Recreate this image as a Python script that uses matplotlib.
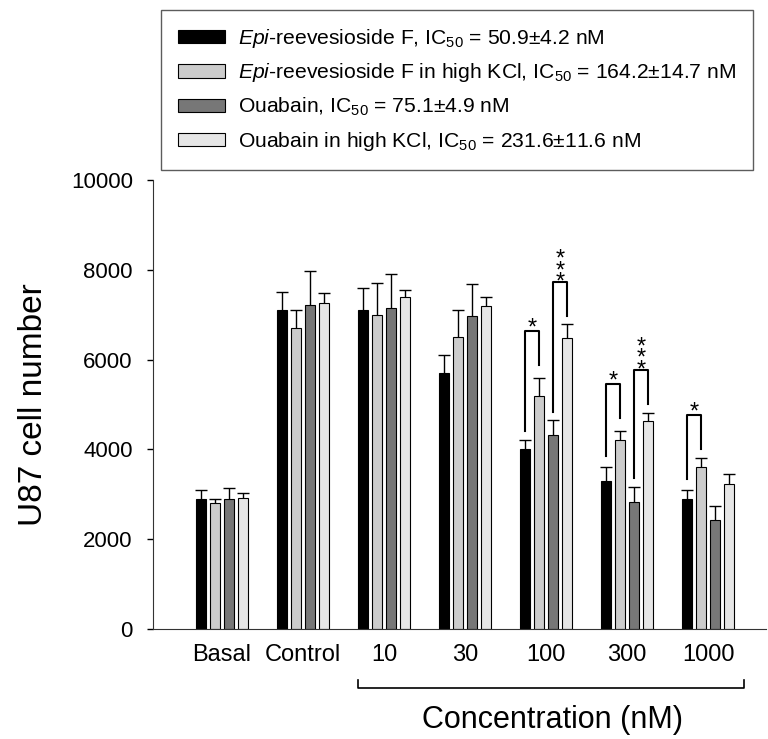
import matplotlib
matplotlib.use("Agg")
import matplotlib.pyplot as plt

plt.rcParams['font.family'] = ['Liberation Sans', 'DejaVu Sans']
plt.rcParams['mathtext.fontset'] = 'custom'
plt.rcParams['mathtext.rm'] = 'Liberation Sans'
plt.rcParams['mathtext.it'] = 'Liberation Sans:italic'

# data
groups = ['Basal', 'Control', '10', '30', '100', '300', '1000']
series_labels = [
    r'$\mathit{Epi}$-reevesioside F, IC$_{50}$ = 50.9±4.2 nM',
    r'$\mathit{Epi}$-reevesioside F in high KCl, IC$_{50}$ = 164.2±14.7 nM',
    r'Ouabain, IC$_{50}$ = 75.1±4.9 nM',
    r'Ouabain in high KCl, IC$_{50}$ = 231.6±11.6 nM',
]
epi = [2900, 7100, 7100, 5700, 4000, 3300, 2900]
epi_err = [200, 400, 500, 400, 200, 300, 200]
epi_kcl = [2800, 6700, 7000, 6500, 5200, 4200, 3600]
epi_kcl_err = [100, 400, 700, 600, 400, 220, 200]
oua = [2900, 7220, 7150, 6980, 4320, 2830, 2420]
oua_err = [250, 750, 750, 700, 330, 330, 330]
oua_kcl = [2920, 7250, 7400, 7200, 6480, 4630, 3230]
oua_kcl_err = [120, 230, 150, 200, 320, 190, 220]

# significance brackets: group, bar a, bar b, top, bottom of a leg, bottom of b leg, stars
sig = [
    (4, 0, 1, 6640, 4400, 5880, 1),
    (4, 2, 3, 7720, 4840, 6970, 3),
    (5, 0, 1, 5450, 3850, 4690, 1),
    (5, 2, 3, 5770, 3370, 5010, 3),
    (6, 0, 1, 4770, 3340, 4020, 1),
]

values = [epi, epi_kcl, oua, oua_kcl]
errors = [epi_err, epi_kcl_err, oua_err, oua_kcl_err]
colors = ['#000000', '#cccccc', '#777777', '#e6e6e6']
offsets = [-0.259, -0.086, 0.086, 0.259]
width = 0.13

fig = plt.figure(figsize=(7.68, 7.39), dpi=100)
ax = fig.add_axes([153 / 768, 1 - 629 / 739, 613 / 768, 449 / 739])

x = list(range(len(groups)))
for vals, errs, col, off, lab in zip(values, errors, colors, offsets, series_labels):
    xs = [xi + off for xi in x]
    ax.bar(xs, vals, width=width, color=col, edgecolor='black', linewidth=0.8, label=lab, zorder=2)
    tops = [v + e for v, e in zip(vals, errs)]
    ax.vlines(xs, vals, tops, color='black', linewidth=1, zorder=3)
    ax.plot(xs, tops, linestyle='none', marker='_', markersize=9, markeredgewidth=1,
            color='black', zorder=3)

# brackets with stars (stacked vertically for ***)
px = 72 / 100
for g, a, b, top, ya, yb, n in sig:
    xa = g + offsets[a]
    xb = g + offsets[b]
    ax.plot([xa, xa, xb, xb], [ya, top, top, yb], color='black', linewidth=1.5, zorder=4)
    low = 10 if n == 1 else 7
    ax.annotate('\n'.join(['*'] * n), ((xa + xb) / 2, top), xytext=(0, (low - 18.4) * px),
                textcoords='offset points', ha='center', va='bottom', fontsize=17,
                linespacing=0.38)

ax.set_xlim(-0.852, 6.716)
ax.set_ylim(0, 10000)
ax.set_yticks([0, 2000, 4000, 6000, 8000, 10000])
ax.tick_params(axis='y', direction='out', length=4.5, width=1, labelsize=16, pad=10)
ax.set_xticks(x)
ax.set_xticklabels(groups)
ax.tick_params(axis='x', length=0, labelsize=17, pad=11)
ax.spines['top'].set_visible(False)
ax.spines['right'].set_visible(False)
ax.spines['left'].set_color('#333333')
ax.spines['bottom'].set_color('#333333')

ax.set_ylabel('U87 cell number', fontsize=24)
ax.yaxis.set_label_coords(-0.17, 0.5)

# concentration bracket under the axis
tr = ax.get_xaxis_transform()
ax.plot([1.68, 1.68, 6.44, 6.44], [-0.114, -0.131, -0.131, -0.114], color='black',
        linewidth=1.2, transform=tr, clip_on=False)
ax.text(4.08, -0.203, 'Concentration (nM)', transform=tr, ha='center', va='center', fontsize=22)

leg = fig.legend(loc='upper left', bbox_to_anchor=(161 / 768, 1 - 10 / 739), fontsize=15.2,
                 frameon=True, fancybox=False, borderaxespad=0, handlelength=2.25,
                 handleheight=0.6, handletextpad=0.6, borderpad=0.8, labelspacing=0.55)
leg.get_frame().set_edgecolor('#333333')
leg.get_frame().set_linewidth(1)

fig.savefig('out.png', dpi=100)
